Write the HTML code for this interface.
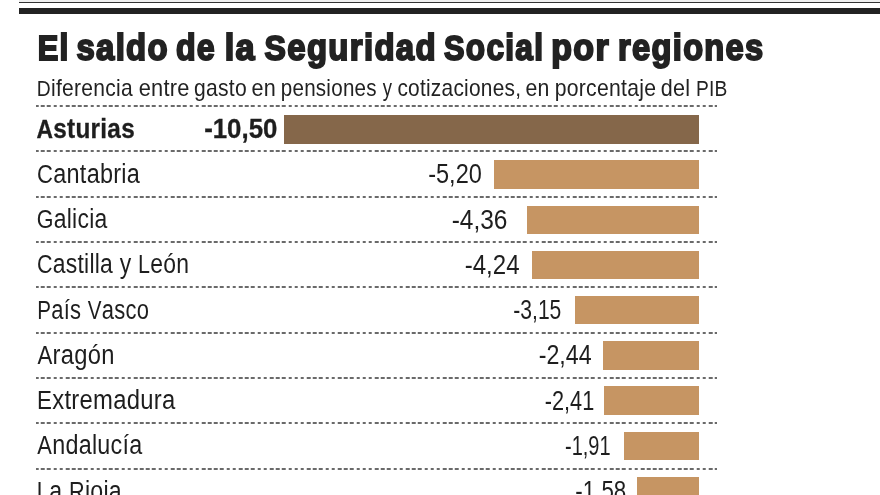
<!DOCTYPE html>
<html><head><meta charset="utf-8"><style>
html,body{margin:0;padding:0;background:#fff;}
body{width:880px;height:495px;overflow:hidden;position:relative;font-family:"Liberation Sans",sans-serif;color:#1e1e1e;}
.a{position:absolute;left:0;top:0;white-space:nowrap;line-height:1;transform-origin:0 0;}
.t{font-weight:bold;color:#222;-webkit-text-stroke:2.0px #222;}
.s{color:#222;}
.b{font-weight:bold;-webkit-text-stroke:0.3px #1e1e1e;}
.d{position:absolute;left:36px;width:681px;height:2px;background:repeating-linear-gradient(90deg,#6a6a6a 0,#6a6a6a 3.6px,transparent 3.6px,transparent 6.183px);background-position:-1.28px 0;}
.r{position:absolute;}
</style></head><body>
<div class="r" style="left:19px;top:0;width:861px;height:2px;background:#efefef"></div>
<div class="r" style="left:19px;top:2px;width:861px;height:1.2px;background:#333"></div>
<div class="r" style="left:19px;top:7.6px;width:861px;height:6.2px;background:#222"></div>
<div id="tw0" class="a t" style="font-size:36.50px;letter-spacing:1.50px;transform:translate(37.64px,30.20px) scaleX(0.8667)"><span style="font-size:35.50px">E</span>l</div>
<div id="tw1" class="a t" style="font-size:36.50px;letter-spacing:1.50px;transform:translate(76.38px,30.20px) scaleX(0.9002)">saldo</div>
<div id="tw2" class="a t" style="font-size:36.50px;letter-spacing:1.50px;transform:translate(175.89px,30.20px) scaleX(0.8802)">de</div>
<div id="tw3" class="a t" style="font-size:36.50px;letter-spacing:1.50px;transform:translate(224.71px,30.20px) scaleX(0.9361)">la</div>
<div id="tw4" class="a t" style="font-size:36.50px;letter-spacing:1.50px;transform:translate(264.60px,30.20px) scaleX(0.9007)"><span style="font-size:35.50px">S</span>eguridad</div>
<div id="tw5" class="a t" style="font-size:36.50px;letter-spacing:1.50px;transform:translate(444.08px,30.20px) scaleX(0.8647)"><span style="font-size:35.50px">S</span>ocial</div>
<div id="tw6" class="a t" style="font-size:36.50px;letter-spacing:1.50px;transform:translate(551.20px,30.20px) scaleX(0.9290)">por</div>
<div id="tw7" class="a t" style="font-size:36.50px;letter-spacing:1.50px;transform:translate(618.06px,30.20px) scaleX(0.8921)">regiones</div>
<div id="sw0" class="a s" style="font-size:24.00px;letter-spacing:0.30px;transform:translate(36.82px,75.98px) scaleX(0.8763)"><span style="font-size:22.00px">D</span>iferencia</div>
<div id="sw1" class="a s" style="font-size:24.00px;letter-spacing:0.30px;transform:translate(138.70px,75.98px) scaleX(0.9078)">entre</div>
<div id="sw2" class="a s" style="font-size:24.00px;letter-spacing:0.30px;transform:translate(194.06px,75.98px) scaleX(0.8777)">gasto</div>
<div id="sw3" class="a s" style="font-size:24.00px;letter-spacing:0.30px;transform:translate(251.46px,75.98px) scaleX(0.8990)">en</div>
<div id="sw4" class="a s" style="font-size:24.00px;letter-spacing:0.30px;transform:translate(280.77px,75.98px) scaleX(0.8565)">pensiones</div>
<div id="sw5" class="a s" style="font-size:24.00px;letter-spacing:0.30px;transform:translate(382.72px,75.98px) scaleX(0.7688)">y</div>
<div id="sw6" class="a s" style="font-size:24.00px;letter-spacing:0.30px;transform:translate(397.38px,75.98px) scaleX(0.8689)">cotizaciones,</div>
<div id="sw7" class="a s" style="font-size:24.00px;letter-spacing:0.30px;transform:translate(525.38px,75.98px) scaleX(0.8845)">en</div>
<div id="sw8" class="a s" style="font-size:24.00px;letter-spacing:0.30px;transform:translate(554.75px,75.98px) scaleX(0.8816)">porcentaje</div>
<div id="sw9" class="a s" style="font-size:24.00px;letter-spacing:0.30px;transform:translate(660.63px,75.98px) scaleX(0.8979)">del</div>
<div id="sw10" class="a s" style="font-size:24.00px;letter-spacing:0.30px;transform:translate(695.89px,75.98px) scaleX(0.8729)"><span style="font-size:22.00px">PIB</span></div>
<div class="d" style="top:105px"></div>
<div class="r" style="left:284.20px;top:115.25px;width:415.10px;height:28.40px;background:#85674a"></div>
<div id="l0" class="a b" style="font-size:27.00px;letter-spacing:0.30px;transform:translate(36.50px,115.54px) scaleX(0.9017)"><span style="font-size:25.30px">A</span>sturias</div>
<div id="v0" class="a b" style="font-size:27.00px;letter-spacing:0.00px;transform:translate(204.13px,116.04px) scaleX(0.9573)">-10,50</div>
<div class="d" style="top:150px"></div>
<div class="r" style="left:493.80px;top:160.45px;width:205.50px;height:28.40px;background:#c69563"></div>
<div id="l1" class="a " style="font-size:27.00px;letter-spacing:0.30px;transform:translate(37.12px,160.79px) scaleX(0.8687)"><span style="font-size:25.30px">C</span>antabria</div>
<div id="v1" class="a " style="font-size:27.00px;letter-spacing:0.00px;transform:translate(428.17px,161.29px) scaleX(0.8720)">-5,20</div>
<div class="d" style="top:196px"></div>
<div class="r" style="left:526.90px;top:205.65px;width:172.40px;height:28.40px;background:#c69563"></div>
<div id="l2" class="a " style="font-size:27.00px;letter-spacing:0.30px;transform:translate(36.74px,206.04px) scaleX(0.8492)"><span style="font-size:25.30px">G</span>alicia</div>
<div id="v2" class="a " style="font-size:27.00px;letter-spacing:0.00px;transform:translate(451.64px,206.54px) scaleX(0.9075)">-4,36</div>
<div class="d" style="top:241px"></div>
<div class="r" style="left:532.20px;top:250.85px;width:167.10px;height:28.40px;background:#c69563"></div>
<div id="l3" class="a " style="font-size:27.00px;letter-spacing:0.30px;transform:translate(37.01px,251.29px) scaleX(0.8483)"><span style="font-size:25.30px">C</span>astilla y <span style="font-size:25.30px">L</span>eón</div>
<div id="v3" class="a " style="font-size:27.00px;letter-spacing:0.00px;transform:translate(464.75px,251.79px) scaleX(0.8902)">-4,24</div>
<div class="d" style="top:286px"></div>
<div class="r" style="left:574.50px;top:296.05px;width:124.80px;height:28.40px;background:#c69563"></div>
<div id="l4" class="a " style="font-size:27.00px;letter-spacing:0.30px;transform:translate(37.32px,296.54px) scaleX(0.8139)"><span style="font-size:25.30px">P</span>aís <span style="font-size:25.30px">V</span>asco</div>
<div id="v4" class="a " style="font-size:27.00px;letter-spacing:0.00px;transform:translate(513.28px,297.04px) scaleX(0.7810)">-3,15</div>
<div class="d" style="top:332px"></div>
<div class="r" style="left:603.10px;top:341.25px;width:96.20px;height:28.40px;background:#c69563"></div>
<div id="l5" class="a " style="font-size:27.00px;letter-spacing:0.30px;transform:translate(37.39px,341.79px) scaleX(0.8803)"><span style="font-size:25.30px">A</span>ragón</div>
<div id="v5" class="a " style="font-size:27.00px;letter-spacing:0.00px;transform:translate(538.67px,342.29px) scaleX(0.8594)">-2,44</div>
<div class="d" style="top:377px"></div>
<div class="r" style="left:604.30px;top:386.45px;width:95.00px;height:28.40px;background:#c69563"></div>
<div id="l6" class="a " style="font-size:27.00px;letter-spacing:0.30px;transform:translate(37.06px,387.04px) scaleX(0.8829)"><span style="font-size:25.30px">E</span>xtremadura</div>
<div id="v6" class="a " style="font-size:27.00px;letter-spacing:0.00px;transform:translate(544.74px,387.54px) scaleX(0.8038)">-2,41</div>
<div class="d" style="top:422px"></div>
<div class="r" style="left:624.00px;top:431.65px;width:75.30px;height:28.40px;background:#c69563"></div>
<div id="l7" class="a " style="font-size:27.00px;letter-spacing:0.30px;transform:translate(37.29px,432.29px) scaleX(0.8646)"><span style="font-size:25.30px">A</span>ndalucía</div>
<div id="v7" class="a " style="font-size:27.00px;letter-spacing:0.00px;transform:translate(565.00px,432.79px) scaleX(0.7405)">-1,91</div>
<div class="d" style="top:468px"></div>
<div class="r" style="left:637.30px;top:476.85px;width:62.00px;height:28.40px;background:#c69563"></div>
<div id="l8" class="a " style="font-size:27.00px;letter-spacing:0.30px;transform:translate(36.81px,477.54px) scaleX(0.8577)"><span style="font-size:25.30px">L</span>a <span style="font-size:25.30px">R</span>ioja</div>
<div id="v8" class="a " style="font-size:27.00px;letter-spacing:0.00px;transform:translate(575.36px,478.04px) scaleX(0.8271)">-1,58</div>
<div class="d" style="top:513px"></div>
</body></html>
